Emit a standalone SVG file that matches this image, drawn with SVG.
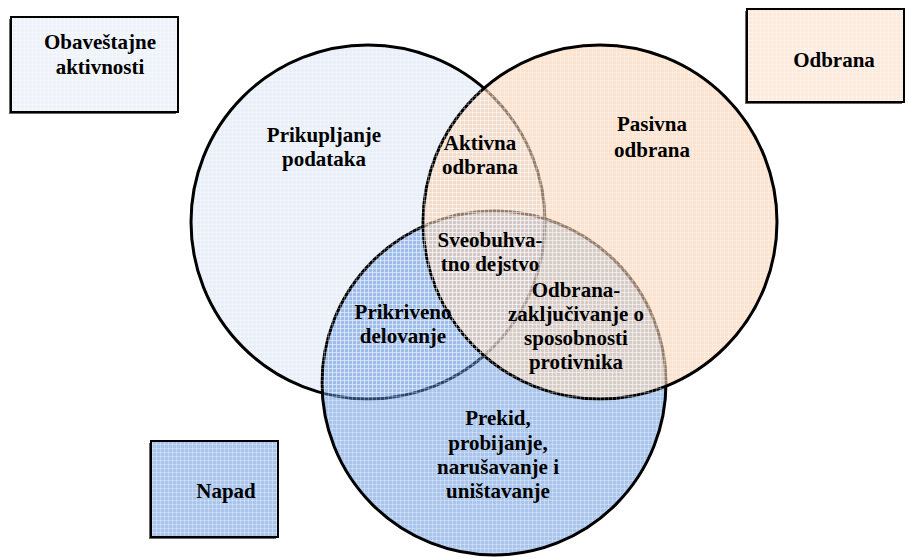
<svg xmlns="http://www.w3.org/2000/svg" width="908" height="560" viewBox="0 0 908 560">
<style>
  .t { font-family: 'Liberation Serif', 'Times New Roman', 'DejaVu Serif', serif; font-weight: 700; font-size: 21px; fill: #000; text-anchor: middle; }
  .ring { stroke: #000; stroke-width: 3; }
  .box { stroke: #000; stroke-width: 2; }
  .shadow { fill: #666; }
</style>
<defs>
  <pattern id="grid" width="4" height="4" patternUnits="userSpaceOnUse">
    <path d="M0 0.5H4M0.5 0V4" stroke="#fff" stroke-width="1" stroke-opacity="0.3" fill="none"/>
  </pattern>
</defs>
<rect width="908" height="560" fill="#fff"/>

<g id="legend-obavestajne">
  <rect class="shadow" x="9" y="19" width="167" height="95"/>
  <rect class="box" x="11" y="17" width="167" height="95" fill="#EEF2F9"/>
  <rect x="12" y="18" width="165" height="93" fill="url(#grid)"/>
  <text class="t" x="100" y="49">Obaveštajne</text>
  <text class="t" x="100" y="74">aktivnosti</text>
</g>
<g id="legend-odbrana">
  <rect class="shadow" x="745" y="11" width="157" height="93"/>
  <rect class="box" x="747" y="9" width="157" height="93" fill="#FCEBDD"/>
  <rect x="748" y="10" width="155" height="91" fill="url(#grid)"/>
  <text class="t" x="834" y="67">Odbrana</text>
</g>
<g id="legend-napad">
  <rect class="shadow" x="149" y="443" width="127" height="96"/>
  <rect class="box" x="151" y="441" width="127" height="96" fill="#A9C5EC"/>
  <rect x="152" y="442" width="125" height="94" fill="url(#grid)"/>
  <text class="t" x="226" y="498">Napad</text>
</g>

<g id="circle-obavestajne">
  <circle class="ring" cx="368" cy="222" r="177" fill="#E9EFF8"/>
</g>
<g id="circle-napad">
  <circle class="ring" cx="494" cy="383" r="172" fill="#538BD9" fill-opacity="0.5"/>
</g>
<g id="circle-odbrana">
  <circle class="ring" cx="600" cy="222" r="177" fill="#F8D0AF" fill-opacity="0.6"/>
</g>
<g id="texture">
  <circle cx="368" cy="222" r="175" fill="url(#grid)"/>
  <circle cx="494" cy="383" r="170" fill="url(#grid)"/>
  <circle cx="600" cy="222" r="175" fill="url(#grid)"/>
</g>
<g id="connectors"></g>

<g id="labels">
  <text class="t" x="324" y="142">Prikupljanje</text>
  <text class="t" x="324" y="166">podataka</text>
  <text class="t" x="480" y="150">Aktivna</text>
  <text class="t" x="480" y="174">odbrana</text>
  <text class="t" x="652" y="131">Pasivna</text>
  <text class="t" x="652" y="157">odbrana</text>
  <text class="t" x="490" y="247">Sveobuhva-</text>
  <text class="t" x="490" y="271">tno dejstvo</text>
  <text class="t" x="403" y="319">Prikriveno</text>
  <text class="t" x="403" y="343">delovanje</text>
  <text class="t" x="576" y="297">Odbrana-</text>
  <text class="t" x="576" y="321">zaključivanje o</text>
  <text class="t" x="576" y="345">sposobnosti</text>
  <text class="t" x="576" y="369">protivnika</text>
  <text class="t" x="498" y="425">Prekid,</text>
  <text class="t" x="498" y="450">probijanje,</text>
  <text class="t" x="498" y="474">narušavanje i</text>
  <text class="t" x="498" y="498">uništavanje</text>
</g>
</svg>
